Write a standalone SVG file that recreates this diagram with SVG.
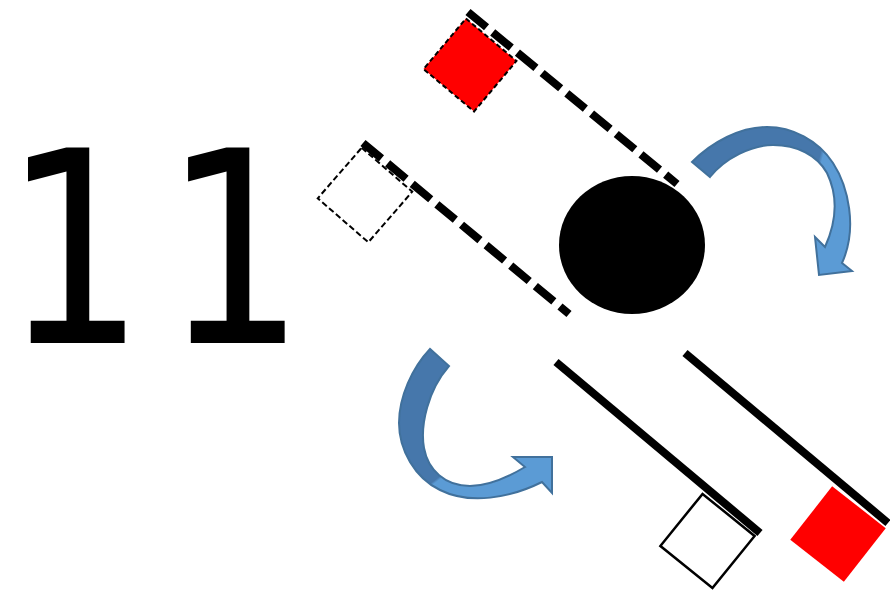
<svg xmlns="http://www.w3.org/2000/svg" width="890" height="592" viewBox="0 0 890 592">
<style>
.big{font-family:"DejaVu Sans Mono",monospace;font-size:268px;fill:#000}
.pole{stroke:#000;stroke-width:8;fill:none}
.dash{stroke-dasharray:24 8}
.arrow{stroke:#41719C;stroke-width:2;stroke-linejoin:miter}
</style>
<defs>
<linearGradient id="gUp" gradientUnits="userSpaceOnUse" x1="692" y1="150" x2="852" y2="190">
<stop offset="0" stop-color="#4677AB"/><stop offset="0.76" stop-color="#4677AB"/><stop offset="0.78" stop-color="#5B9BD5"/><stop offset="1" stop-color="#5B9BD5"/>
</linearGradient>
<linearGradient id="gLo" gradientUnits="userSpaceOnUse" x1="420" y1="460" x2="450" y2="500">
<stop offset="0" stop-color="#4677AB"/><stop offset="0.5" stop-color="#4677AB"/><stop offset="0.55" stop-color="#5B9BD5"/><stop offset="1" stop-color="#5B9BD5"/>
</linearGradient>
</defs>
<rect width="890" height="592" fill="#fff"/>
<g id="label"><text class="big" transform="scale(0.87 1)" x="0 184" y="343">11</text></g>
<g id="connectors">
<line class="pole dash" x1="468" y1="12" x2="677" y2="184"/>
<line class="pole dash" x1="363" y1="143" x2="569" y2="314"/>
<line class="pole" x1="556" y1="362" x2="760" y2="533"/>
<line class="pole" x1="685" y1="353" x2="888" y2="523"/>
</g>
<g id="red-flag-top"><rect x="-33" y="-33" width="66" height="66" transform="translate(470 65) rotate(40)" fill="#f00" stroke="#000" stroke-width="2" stroke-dasharray="5 3"/></g>
<g id="white-flag-top"><rect x="-33.5" y="-33.5" width="67" height="67" transform="translate(365 195) rotate(41)" fill="none" stroke="#000" stroke-width="2" stroke-dasharray="6 3"/></g>
<g id="ball"><ellipse cx="632" cy="245" rx="73" ry="69" fill="#000"/></g>
<g id="white-flag-bottom"><rect x="-33.5" y="-33.5" width="67" height="67" transform="translate(707.5 541) rotate(39)" fill="#fff" stroke="#000" stroke-width="2.5"/></g>
<g id="red-flag-bottom"><rect x="-34" y="-34" width="68" height="68" transform="translate(838 534) rotate(38)" fill="#f00"/></g>
<g id="arrow-top"><path class="arrow" fill="url(#gUp)" d="M692,162 C712,142 740,127 767,127 C792,127 818,140 833,163 C848,186 858,228 842,263 L852,271 L819,275 L815,237 L825,247 C835,225 840,200 827,173 C817,155 797,145 773,145 C752,145 725,158 710,177 Z"/></g>
<g id="arrow-bottom"><path class="arrow" fill="url(#gLo)" d="M430,349 C412,368 399,397 399,423 C399,450 415,478 440,490 C470,505 510,498 542,482 L552,493 L552,457 L513,457 L525,467 C505,479 488,486 470,486 C445,486 428,470 424,448 C420,425 428,390 449,366 Z"/></g>
</svg>
